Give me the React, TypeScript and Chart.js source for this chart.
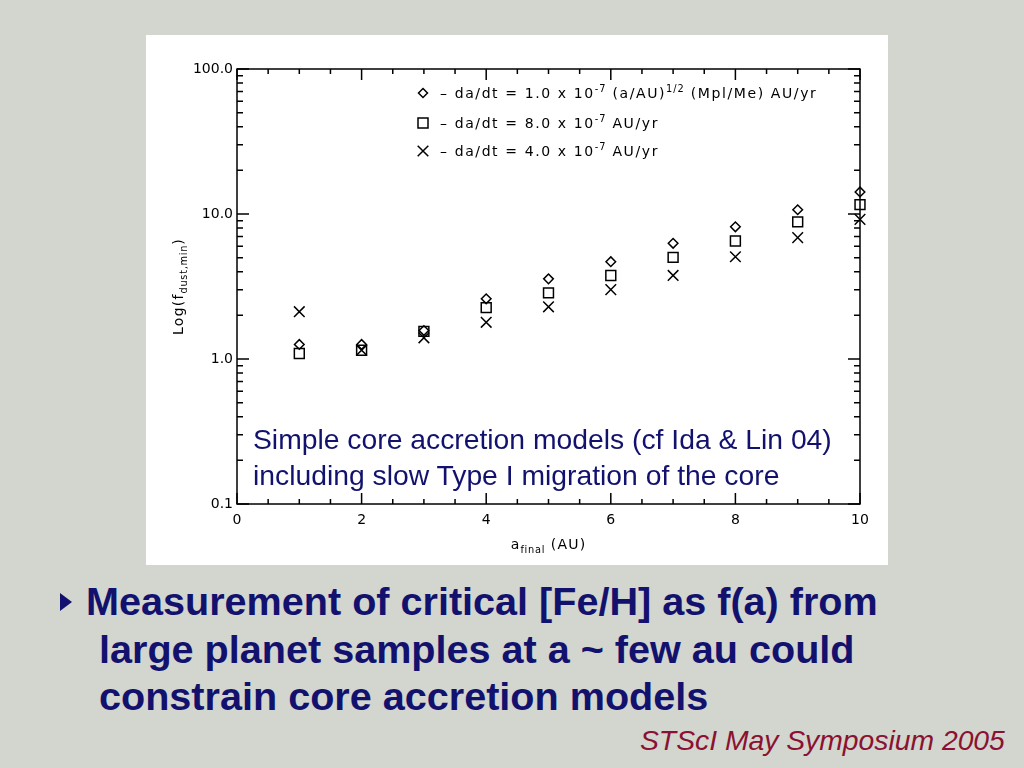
import React, { useEffect, useRef } from 'react';
import { Chart, registerables } from 'chart.js';

Chart.register(...registerables);

// ---- data ----
const xValues = [1, 2, 3, 4, 5, 6, 7, 8, 9, 10];
const diamondValues = [1.26, 1.26, 1.57, 2.6, 3.57, 4.69, 6.28, 8.16, 10.7, 14.2];
const squareValues = [1.09, 1.15, 1.55, 2.26, 2.86, 3.77, 5.02, 6.52, 8.83, 11.6];
const crossValues = [2.12, 1.15, 1.4, 1.79, 2.29, 3.01, 3.77, 5.07, 6.87, 9.18];

const xTickValues = [0, 2, 4, 6, 8, 10];
const yTickValues = [0.1, 1, 10, 100];

type Seg = [string, string];
const legendEntries: Seg[][] = [
  [['n', '– da/dt = 1.0 x 10'], ['sup', '-7'], ['n', ' (a/AU)'], ['sup', '1/2'], ['n', ' (Mpl/Me) AU/yr']],
  [['n', '– da/dt = 8.0 x 10'], ['sup', '-7'], ['n', ' AU/yr']],
  [['n', '– da/dt = 4.0 x 10'], ['sup', '-7'], ['n', ' AU/yr']],
];
const legendStyles = ['diamond', 'square', 'cross'];
const xTitle: Seg[] = [['n', 'a'], ['sub', 'final'], ['n', ' (AU)']];
const yTitle: Seg[] = [['n', 'Log(f'], ['sub', 'dust,min'], ['n', ')']];

const overlayLines = [
  'Simple core accretion models (cf Ida & Lin 04)',
  'including slow Type I migration of the core',
];
const bulletLines = [
  'Measurement of critical [Fe/H] as f(a) from',
  'large planet samples at a ~ few au could',
  'constrain core accretion models',
];
const footerText = 'STScI May Symposium 2005';

const FONT = 'DejaVu Sans';

function richWidth(ctx: CanvasRenderingContext2D, segs: Seg[], size: number, spacing: number) {
  let w = 0;
  for (const [mode, t] of segs) {
    const s = mode === 'n' ? size : size * 0.7;
    ctx.font = `${s}px "${FONT}"`;
    (ctx as any).letterSpacing = `${mode === 'n' ? spacing : spacing * 0.6}px`;
    w += ctx.measureText(t).width;
  }
  return w;
}

function drawRich(
  ctx: CanvasRenderingContext2D,
  segs: Seg[],
  x: number,
  y: number,
  align: 'left' | 'center',
  size: number,
  spacing: number
) {
  ctx.save();
  ctx.textBaseline = 'alphabetic';
  ctx.textAlign = 'left';
  ctx.fillStyle = '#000';
  const total = richWidth(ctx, segs, size, spacing);
  let cx = align === 'center' ? x - total / 2 : x;
  for (const [mode, t] of segs) {
    const s = mode === 'n' ? size : size * 0.7;
    ctx.font = `${s}px "${FONT}"`;
    (ctx as any).letterSpacing = `${mode === 'n' ? spacing : spacing * 0.6}px`;
    const dy = mode === 'sup' ? -size * 0.45 : mode === 'sub' ? size * 0.3 : 0;
    ctx.fillText(t, cx, y + dy);
    cx += ctx.measureText(t).width;
  }
  ctx.restore();
}

function drawMarker(ctx: CanvasRenderingContext2D, style: string, x: number, y: number) {
  ctx.save();
  ctx.strokeStyle = '#000';
  ctx.lineWidth = 1.5;
  ctx.beginPath();
  if (style === 'diamond') {
    const r = 4.5;
    ctx.moveTo(x, y - r);
    ctx.lineTo(x + r, y);
    ctx.lineTo(x, y + r);
    ctx.lineTo(x - r, y);
    ctx.closePath();
  } else if (style === 'square') {
    const h = 5;
    ctx.rect(x - h, y - h, 2 * h, 2 * h);
  } else {
    const h = 5.3;
    ctx.moveTo(x - h, y - h);
    ctx.lineTo(x + h, y + h);
    ctx.moveTo(x + h, y - h);
    ctx.lineTo(x - h, y + h);
  }
  ctx.stroke();
  ctx.restore();
}

const idlPlugin = {
  id: 'idlFrame',
  beforeDatasetsDraw(chart: any) {
    const { ctx, chartArea: a, scales } = chart;
    const xs = scales.x;
    const ys = scales.y;
    ctx.save();
    ctx.strokeStyle = '#000';
    ctx.lineWidth = 1.5;
    ctx.strokeRect(a.left, a.top, a.right - a.left, a.bottom - a.top);
    ctx.beginPath();
    for (let v = 0; v <= 10.001; v += 0.5) {
      const major = Math.abs(v % 2) < 1e-6;
      const len = major ? 11 : 5;
      const px = xs.getPixelForValue(v);
      ctx.moveTo(px, a.bottom);
      ctx.lineTo(px, a.bottom - len);
      ctx.moveTo(px, a.top);
      ctx.lineTo(px, a.top + len);
    }
    const decades = [0.1, 1, 10];
    for (const d of decades) {
      for (let k = 1; k <= 9; k++) {
        const val = k * d;
        const len = k === 1 ? 12 : 6;
        const py = ys.getPixelForValue(val);
        ctx.moveTo(a.left, py);
        ctx.lineTo(a.left + len, py);
        ctx.moveTo(a.right, py);
        ctx.lineTo(a.right - len, py);
      }
    }
    const pTop = ys.getPixelForValue(100);
    ctx.moveTo(a.left, pTop);
    ctx.lineTo(a.left + 12, pTop);
    ctx.moveTo(a.right, pTop);
    ctx.lineTo(a.right - 12, pTop);
    ctx.stroke();
    ctx.restore();
  },
  afterDraw(chart: any) {
    const { ctx, chartArea: a } = chart;
    // legend
    const mx = 277;
    const rows = [58, 88, 116];
    legendEntries.forEach((segs, i) => {
      drawMarker(ctx, legendStyles[i], mx, rows[i]);
      drawRich(ctx, segs, 294, rows[i] + 5, 'left', 14, 1.6);
    });
    // x title
    drawRich(ctx, xTitle, (a.left + a.right) / 2, 514, 'center', 14, 1.2);
    // y title
    ctx.save();
    ctx.translate(37, (a.top + a.bottom) / 2);
    ctx.rotate(-Math.PI / 2);
    drawRich(ctx, yTitle, 0, 0, 'center', 14, 1.2);
    ctx.restore();
  },
};

export default function App() {
  const ref = useRef<HTMLCanvasElement | null>(null);

  useEffect(() => {
    if (!ref.current) return;
    const mk = (vals: number[]) => xValues.map((x, i) => ({ x, y: vals[i] }));
    const common = {
      showLine: false,
      clip: false as any,
      pointBorderColor: '#000',
      pointBackgroundColor: 'rgba(0,0,0,0)',
      pointBorderWidth: 1.5,
      pointHoverBorderWidth: 1.5,
    };
    const chart = new Chart(ref.current, {
      type: 'scatter',
      data: {
        datasets: [
          { ...common, label: 'diamond', data: mk(diamondValues), pointStyle: 'rectRot', pointRadius: 4.8, pointHoverRadius: 4.8 },
          { ...common, label: 'square', data: mk(squareValues), pointStyle: 'rect', pointRadius: 7, pointHoverRadius: 7 },
          { ...common, label: 'cross', data: mk(crossValues), pointStyle: 'crossRot', pointRadius: 7.5, pointHoverRadius: 7.5 },
        ],
      },
      options: {
        animation: false,
        responsive: false,
        maintainAspectRatio: false,
        events: [],
        layout: { padding: { top: 34, right: 28, left: 0, bottom: 0 } },
        plugins: {
          legend: { display: false },
          tooltip: { enabled: false },
          title: { display: false },
        },
        scales: {
          x: {
            type: 'linear',
            min: 0,
            max: 10,
            position: 'bottom',
            afterBuildTicks: (s: any) => {
              s.ticks = xTickValues.map((v) => ({ value: v }));
            },
            afterFit: (s: any) => {
              s.height = 61;
            },
            ticks: {
              autoSkip: false,
              maxRotation: 0,
              padding: 8,
              color: '#000',
              font: { family: FONT, size: 14 },
              callback: (v: any) => String(v),
            },
            grid: { display: false, drawTicks: false },
            border: { display: false },
          },
          y: {
            type: 'logarithmic',
            min: 0.1,
            max: 100,
            afterBuildTicks: (s: any) => {
              s.ticks = yTickValues.map((v) => ({ value: v }));
            },
            afterFit: (s: any) => {
              s.width = 91;
            },
            ticks: {
              autoSkip: false,
              padding: 4,
              color: '#000',
              font: { family: FONT, size: 14 },
              callback: (v: any) => Number(v).toFixed(1),
            },
            grid: { display: false, drawTicks: false },
            border: { display: false },
          },
        },
      },
      plugins: [idlPlugin],
    } as any);
    return () => chart.destroy();
  }, []);

  const navy = '#12126e';
  return (
    <div
      style={{
        position: 'fixed',
        left: 0,
        top: 0,
        width: 1024,
        height: 768,
        background: '#d3d5cf',
        overflow: 'hidden',
        fontFamily: '"Liberation Sans", Arial, sans-serif',
      }}
    >
      <div style={{ position: 'absolute', left: 146, top: 35, width: 742, height: 530, background: '#fff' }}>
        <canvas ref={ref} width={742} height={530} style={{ width: 742, height: 530, display: 'block' }} />
      </div>
      {overlayLines.map((t, i) => (
        <div
          key={i}
          style={{
            position: 'absolute',
            left: 253,
            top: 421 + i * 36,
            fontSize: 28.3,
            lineHeight: '36px',
            color: navy,
            whiteSpace: 'nowrap',
          }}
        >
          {t}
        </div>
      ))}
      <div
        style={{
          position: 'absolute',
          left: 60,
          top: 593,
          width: 0,
          height: 0,
          borderTop: '9px solid transparent',
          borderBottom: '9px solid transparent',
          borderLeft: `12px solid ${navy}`,
        }}
      />
      {bulletLines.map((t, i) => (
        <div
          key={i}
          style={{
            position: 'absolute',
            left: i === 0 ? 86 : 99,
            top: 578 + i * 47.5,
            fontSize: 39.6,
            lineHeight: '47.5px',
            fontWeight: 'bold',
            color: navy,
            whiteSpace: 'nowrap',
          }}
        >
          {t}
        </div>
      ))}
      <div
        style={{
          position: 'absolute',
          left: 640,
          top: 726,
          fontSize: 28.3,
          lineHeight: '28px',
          fontStyle: 'italic',
          color: '#8a1230',
          whiteSpace: 'nowrap',
        }}
      >
        {footerText}
      </div>
    </div>
  );
}
